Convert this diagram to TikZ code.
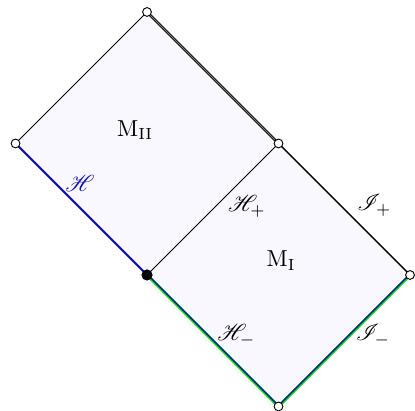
\documentclass[tikz,border=0pt]{standalone}
\usepackage{amsmath,amssymb}
\usepackage{mathrsfs}
\usepackage{tikz}
\usetikzlibrary{positioning, calc}
\definecolor{regionfill}{RGB}{250, 248, 255}
\definecolor{horizonblue}{RGB}{20, 20, 170}
\definecolor{pastgreen}{RGB}{0, 230, 0}

\begin{document}
\begin{tikzpicture}[x=2cm, y=2cm,
    endpt/.style={circle, draw=black, fill=white, inner sep=0pt, minimum size=3.8pt},
    bifpt/.style={circle, draw=black, fill=black, inner sep=0pt, minimum size=4.4pt},
    lbl/.style={inner sep=1pt}]
    \useasboundingbox (-1.118,-1.034) rectangle (2.038,2.091);

    % Corners of the two diamonds
    \coordinate (bif) at (0,0);
    \coordinate (top) at (0,2);
    \coordinate (lft) at (-1,1);
    \coordinate (mid) at (1,1);
    \coordinate (rgt) at (2,0);
    \coordinate (bot) at (1,-1);

    % Regions
    \fill[regionfill] (lft) -- (top) -- (mid) -- (rgt) -- (bot) -- (bif) -- cycle;

    % Boundaries of M_II
    \draw[black, thin] (lft) -- (top);
    \draw[black, double=gray, double distance=0.35pt, line width=0.4pt] (top) -- (mid);
    \draw[horizonblue, line width=0.9pt] (lft) -- (bif);

    % Boundaries of M_I
    \draw[black, thin] (bif) -- (mid);
    \draw[black, line width=0.6pt] (mid) -- (rgt);
    \draw[pastgreen, line width=1.3pt] (bif) -- (bot) -- (rgt);
    \draw[horizonblue, line width=0.6pt] ([yshift=0.35pt]bif) -- ([yshift=0.35pt]bot) -- ([yshift=0.35pt]rgt);

    % Horizon and infinity labels
    \node[lbl, text=horizonblue] (hor) at (-0.51,0.70) {$\mathscr{H}$};
    \node[lbl] (horp) at (0.76,0.52) {$\mathscr{H}_+$};
    \node[lbl] (horm) at (0.68,-0.46) {$\mathscr{H}_-$};
    \node[lbl] (scrp) at (1.73,0.53) {$\mathscr{I}_+$};
    \node[lbl] (scrm) at (1.72,-0.46) {$\mathscr{I}_-$};

    % Region names
    \node (mtwo) at (-0.09,1.10) {$\mathrm{M}_{\mathrm{II}}$};
    \node (mone) at (1.02,0.11) {$\mathrm{M}_{\mathrm{I}}$};

    % Points at infinity and bifurcation sphere
    \node[endpt] at (top) {};
    \node[endpt] at (lft) {};
    \node[endpt] at (mid) {};
    \node[endpt] at (rgt) {};
    \node[endpt] at (bot) {};
    \node[bifpt] at (bif) {};
\end{tikzpicture}
\end{document}
